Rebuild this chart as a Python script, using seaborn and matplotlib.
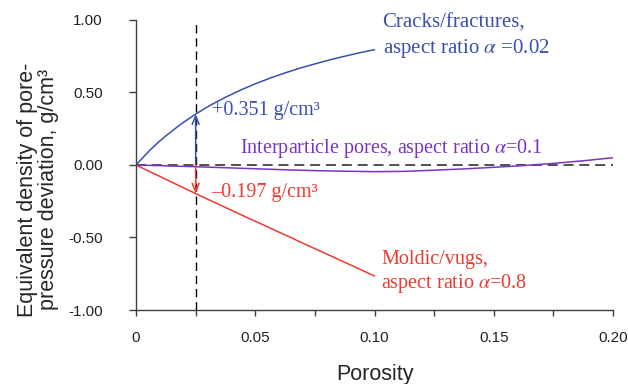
import numpy as np
import seaborn as sns
import matplotlib
matplotlib.use("Agg")
import matplotlib.pyplot as plt
import pandas as pd


#%% data
Porosity_Short = [0, 0.003125, 0.00625, 0.009375, 0.0125, 0.01875, 0.025, 0.03125, 0.0375,
                  0.04375, 0.05, 0.05625, 0.0625, 0.06875, 0.075, 0.08125, 0.0875,
                  0.09375, 0.1]

Porosity_Long  = [0, 0.0125, 0.025, 0.0375, 0.05, 0.0625, 0.075, 0.0875, 0.1,
                  0.1125, 0.125, 0.1375, 0.15, 0.1625, 0.175, 0.1875, 0.2]

Cracks   = [0, 0.056, 0.109, 0.157, 0.201, 0.281, 0.351, 0.413, 0.467,
            0.516, 0.56, 0.599, 0.635, 0.668, 0.697, 0.725, 0.75,
            0.774, 0.795]

Moldic   = [0, -0.025, -0.050, -0.074, -0.099, -0.148, -0.197, -0.245, -0.293,
            -0.341, -0.388, -0.435, -0.482, -0.530, -0.577, -0.624, -0.671,
            -0.718, -0.766]

Interp   = [0, -0.006, -0.012, -0.019, -0.026, -0.033, -0.039, -0.043, -0.046,
            -0.044, -0.036, -0.027, -0.016, -0.004, 0.011, 0.029, 0.05]

Phi_Mark     = 0.025
Delta_Cracks = 0.351
Delta_Moldic = -0.197

df_c = pd.DataFrame(data = {"Porosity": Porosity_Short, "Dev": Cracks, "Type": "Cracks"})
df_m = pd.DataFrame(data = {"Porosity": Porosity_Short, "Dev": Moldic, "Type": "Moldic"})
df_i = pd.DataFrame(data = {"Porosity": Porosity_Long,  "Dev": Interp, "Type": "Interp"})

df = pd.concat([df_c, df_i, df_m], ignore_index = True)


#%% style
Color_Cracks = "#3a4fae"
Color_Interp = "#7a35c0"
Color_Moldic = "#ee3a2e"

palette = {"Cracks": Color_Cracks, "Interp": Color_Interp, "Moldic": Color_Moldic}

# X axis
XTicks      = [0, 0.05, 0.10, 0.15, 0.20]
xticklabels = ["0", "0.05", "0.10", "0.15", "0.20"]
XMinor      = [0.025, 0.075, 0.125, 0.175]
XLabel      = "Porosity"
XLim        = [0, 0.2]

# Y axis
YLabel       = "Equivalent density of pore-\npressure deviation, g/cm\u00b3"
yticks       = [1.0, 0.5, 0.0, -0.5, -1.0]
yticks_label = ["1.00", "0.50", "0.00", "-0.50", "-1.00"]
YLim         = [-1, 1]

Fig_Width  = 6.28
Fig_Height = 3.84

Axis_Color     = "#404040"
Axis_LineWidth = 1.0

FontSize_TickLabel = 11
FontSize_AxisLabel = 15.5
FontSize_Note      = 14.5
FontName           = "Liberation Sans"
SerifName          = "Liberation Serif"

sns.set_style("ticks")
plt.rcParams["font.family"] = [FontName, "DejaVu Sans"]
plt.rcParams["mathtext.fontset"] = "stix"


Fig = plt.figure(figsize = [Fig_Width, Fig_Height], dpi = 100)
ax = plt.axes([0.2166, 0.1927, 0.7596, 0.7553])

# reference lines
ax.axhline(0, color = "#333333", lw = 1.2, ls = (0, (6, 3.5)), zorder = 1)
ax.axvline(Phi_Mark, color = "black", lw = 1.0, ls = (0, (6, 3.5)), zorder = 1)

sns.lineplot(ax = ax, data = df, x = "Porosity", y = "Dev", hue = "Type",
             palette = palette, linewidth = 1.1, legend = False, sort = True,
             estimator = None, zorder = 2)

# arrows
ax.annotate("", xy = (Phi_Mark, Delta_Cracks), xytext = (Phi_Mark, 0),
            arrowprops = dict(arrowstyle = "->,head_length=0.6,head_width=0.25",
                              color = Color_Cracks, lw = 1.1, shrinkA = 0, shrinkB = 0),
            zorder = 4)
ax.annotate("", xy = (Phi_Mark, Delta_Moldic), xytext = (Phi_Mark, 0),
            arrowprops = dict(arrowstyle = "->,head_length=0.6,head_width=0.25",
                              color = Color_Moldic, lw = 1.1, shrinkA = 0, shrinkB = 0),
            zorder = 4)

# annotations
note = dict(fontsize = FontSize_Note, fontfamily = SerifName, va = "center", ha = "left")
ax.text(0.0319, 0.379, "+0.351 g/cm\u00b3", color = Color_Cracks, **note)
ax.text(0.0315, -0.191, "\u20130.197 g/cm\u00b3", color = Color_Moldic, **note)
ax.text(0.0436, 0.115, r"Interparticle pores, aspect ratio $\alpha$=0.1", color = Color_Interp, **note)
ax.text(0.103, 0.977, "Cracks/fractures,", color = Color_Cracks, fontsize = 15,
        fontfamily = SerifName, va = "center", ha = "left")
ax.text(0.1035, 0.805, r"aspect ratio $\alpha$ =0.02", color = Color_Cracks, fontsize = 15,
        fontfamily = SerifName, va = "center", ha = "left")
ax.text(0.103, -0.655, "Moldic/vugs,", color = Color_Moldic, **note)
ax.text(0.1025, -0.816, r"aspect ratio $\alpha$=0.8", color = Color_Moldic, **note)

# Y axis
ax.set_ylim(YLim)
ax.set_yticks(yticks)
ax.set_yticklabels(yticks_label, fontsize = FontSize_TickLabel)
ax.set_ylabel(YLabel, fontsize = FontSize_AxisLabel, linespacing = 1.0)
ax.yaxis.set_label_coords(-0.161, 0.414)

# X axis
ax.set_xlim(XLim)
ax.set_xticks(XTicks)
ax.set_xticks(XMinor, minor = True)
ax.set_xticklabels(xticklabels, fontsize = FontSize_TickLabel)
ax.set_xlabel(XLabel, fontsize = FontSize_AxisLabel, labelpad = 14)

ax.spines[["right", "top"]].set_visible(False)
ax.spines[["left", "bottom"]].set_linewidth(Axis_LineWidth)
ax.spines[["left", "bottom"]].set_color(Axis_Color)
ax.tick_params(axis = "y", length = 5, width = Axis_LineWidth, color = Axis_Color, pad = 19, labelcolor = "#222222")
ax.tick_params(axis = "x", which = "both", length = 4, width = Axis_LineWidth, color = Axis_Color, pad = 11, labelcolor = "#222222")

plt.savefig("out.png", dpi = "figure")
